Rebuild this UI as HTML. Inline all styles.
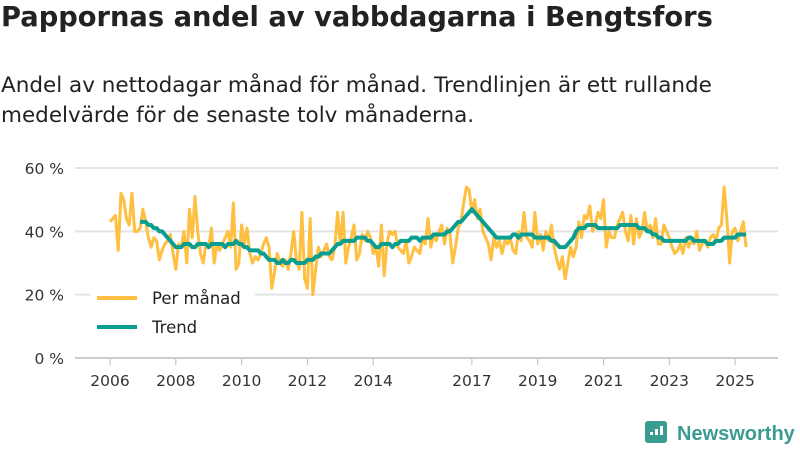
<!DOCTYPE html>
<html><head><meta charset="utf-8"><style>
body{margin:0;width:800px;height:450px;background:#fff;font-family:"DejaVu Sans","Liberation Sans",sans-serif;overflow:hidden;position:relative}
.t{position:absolute;left:1px;top:2px;font-size:27.3px;font-weight:bold;color:#222;margin:0;white-space:nowrap}
.s{position:absolute;left:1px;top:71px;font-size:21.5px;line-height:30px;color:#222;margin:0;white-space:nowrap}
svg{position:absolute;left:0;top:0}
</style></head><body>
<h1 class="t">Pappornas andel av vabbdagarna i Bengtsfors</h1>
<p class="s">Andel av nettodagar månad för månad. Trendlinjen är ett rullande<br>medelvärde för de senaste tolv månaderna.</p>
<svg id="c" width="800" height="450" font-family="DejaVu Sans, Liberation Sans, sans-serif"></svg>
<script>
const monthly=[43,44,45,34,52,50,44,42,52,40,40,41,
47,43,38,35,38,37,31,34,36,37,39,33,
28,36,35,40,30,47,38,51,40,33,30,36,
35,41,30,36,34,36,38,40,35,49,28,30,
42,36,41,33,30,32,31,33,36,38,35,22,
27,33,30,29,31,28,33,40,31,28,46,25,
22,44,20,28,35,32,34,36,32,31,35,46,
36,46,30,35,38,42,31,33,39,37,40,38,
33,35,29,42,26,36,40,39,40,35,34,33,
37,30,32,35,34,33,38,36,44,35,39,37,
40,42,36,41,39,30,35,41,43,49,54,53,
46,50,44,47,40,38,36,31,38,35,37,33,
37,36,38,34,33,40,37,46,38,37,35,46,
36,39,34,40,37,42,35,31,28,32,25,30,
35,32,35,43,38,45,44,48,40,42,46,44,
50,35,40,38,38,42,44,46,40,37,45,36,
44,38,40,46,40,42,38,44,36,36,42,40,
38,35,33,34,36,33,38,35,37,36,40,34,
36,37,35,38,39,37,41,42,54,44,30,40,
41,37,40,43,35];
const trendStart=11;
const trend=[43,
43,43,42,42,41,41,40,40,39,38,37,36,
35,35,35,36,36,36,35,35,36,36,36,36,
35,36,36,36,36,36,35,36,36,36,37,36,
36,35,35,34,34,34,34,33,33,32,31,31,
31,30,30,31,30,30,31,31,30,30,30,30,
31,31,31,32,32,33,33,33,33,34,35,36,
36,37,37,37,37,37,38,38,38,38,37,37,
36,35,35,36,36,36,36,35,36,36,37,37,
37,37,38,38,38,37,38,38,38,38,39,39,
39,39,39,40,40,41,42,43,43,44,45,46,
47,46,45,44,43,42,41,40,39,38,38,38,
38,38,38,39,39,38,39,39,39,39,39,38,
38,38,38,38,38,37,37,36,35,35,35,36,
37,38,40,41,41,41,42,42,42,42,41,41,
41,41,41,41,41,41,42,42,42,42,42,42,
42,41,41,41,40,40,39,39,38,38,37,37,
37,37,37,37,37,37,37,38,38,37,37,37,
37,37,36,36,36,37,37,37,38,38,38,38,
38,39,39,39,39];
const yTicks=[0,20,40,60];
const yLabels=["0 %","20 %","40 %","60 %"];
const xTicks=[2006,2008,2010,2012,2014,2017,2019,2021,2023,2025];
const NS="http://www.w3.org/2000/svg",svg=document.getElementById('c');
const x=t=>110+(t-2006)*32.9, y=v=>358-v*190/60, xm=i=>x(2006+i/12);
function el(n,a){const e=document.createElementNS(NS,n);for(const k in a)e.setAttribute(k,a[k]);svg.appendChild(e);return e;}
yTicks.forEach((v,i)=>{
 const g=el('line',{x1:75,x2:778,y1:y(v),y2:y(v),stroke:v===0?'#ccc':'#e3e3e3','stroke-width':2});
 
 
 const t=el('text',{x:64,y:y(v)+6,'text-anchor':'end','font-size':15.5,fill:'#333'});t.textContent=yLabels[i];
 
 
});
xTicks.forEach(v=>{
 const l=el('line',{x1:x(v),x2:x(v),y1:359,y2:365,stroke:'#bbb','stroke-width':1});
 
 
 const t=el('text',{x:x(v),y:386,'text-anchor':'middle','font-size':15.5,fill:'#333'});t.textContent=v;
 
 
});
const p1=el('polyline',{points:monthly.map((v,i)=>xm(i)+','+y(v)).join(' '),fill:'none',stroke:'#ffbf40','stroke-width':3,'stroke-linejoin':'round'});


const p2=el('polyline',{points:trend.map((v,i)=>xm(i+trendStart)+','+y(v)).join(' '),fill:'none',stroke:'#0a9e91','stroke-width':4,'stroke-linejoin':'round'});


el('rect',{x:90,y:285,width:165,height:55,fill:'#fff'});
[["Per månad",'#ffbf40',298],["Trend",'#0a9e91',327]].forEach(([n,c,yy])=>{
 const l=el('line',{x1:97,x2:137,y1:yy,y2:yy,stroke:c,'stroke-width':4});
 
 
 const t=el('text',{x:152,y:yy+6,'font-size':16.5,fill:'#222'});t.textContent=n;
 
 
});
const lg=el('rect',{x:645,y:421,width:22,height:22,rx:3,fill:'#3a9c91'});


[[650,432,3],[655,429,6],[660,426,9]].forEach(([a,b,h])=>el('rect',{x:a,y:b,width:3,height:h,fill:'#fff'}));
const lt=el('text',{x:677,y:440,'font-size':20,'font-weight':'bold',fill:'#3a9c91','font-family':'Liberation Sans, sans-serif'});lt.textContent='Newsworthy';


</script>
</body></html>
